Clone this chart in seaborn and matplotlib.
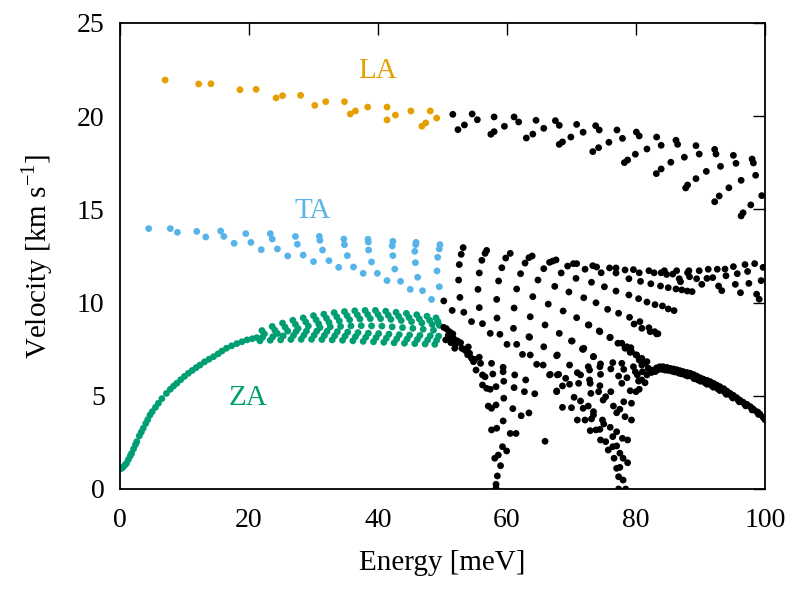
import numpy as np
import pandas as pd
import matplotlib
matplotlib.use("Agg")
import matplotlib.pyplot as plt
import seaborn as sns

# ---------------- data ----------------
la_E = [7.0, 12.2, 14.1, 18.6, 21.1, 24.2, 25.2, 28.0, 30.2, 31.9, 34.8, 35.7, 36.5,
        38.4, 41.4, 41.4, 42.7, 45.1, 46.8, 47.4, 48.1, 49.1]
la_V = [21.94, 21.73, 21.74, 21.42, 21.44, 20.98, 21.10, 21.12, 20.58, 20.78, 20.78,
        20.12, 20.28, 20.49, 20.49, 19.80, 20.06, 20.28, 19.46, 19.64, 20.28, 19.90]

ta_E = [4.45, 7.8, 8.9, 11.9, 13.3, 15.6, 16.1, 17.7, 19.5, 20.3, 21.9, 23.3, 23.6, 24.4,
        26.0, 27.2, 27.5, 28.4, 30.0, 30.9, 31.0, 31.4, 32.4, 33.9, 34.7, 34.8, 35.25,
        36.2, 37.7, 38.45, 38.5, 38.55, 39.0, 39.9, 41.4, 42.3, 42.2, 42.3, 42.6, 43.5,
        45.0, 45.9, 45.85, 45.7, 45.8, 46.15, 46.9, 48.3, 49.6, 49.5, 49.25, 49.15, 49.5]
ta_V = [13.97, 13.97, 13.77, 13.82, 13.52, 13.84, 13.55, 13.18, 13.70, 13.23, 12.84,
        13.70, 13.41, 12.88, 12.50, 13.55, 13.13, 12.55, 12.20, 13.55, 13.34, 12.82,
        12.25, 11.89, 13.41, 13.11, 12.52, 11.91, 11.57, 13.40, 13.25, 12.82, 12.18,
        11.57, 11.18, 13.29, 13.04, 12.52, 11.80, 11.14, 10.71, 13.23, 13.11, 12.75,
        12.14, 11.36, 10.64, 10.17, 13.11, 12.88, 12.43, 11.70, 10.85]

# ZA: low-energy curve
za_E = [0.1, 0.3, 0.5, 0.8, 1.0, 1.3, 1.6, 1.8, 2.1, 2.4, 2.6, 3.0, 3.3, 3.6, 4.0, 4.3,
        4.65, 5.0, 5.5, 5.95, 6.5, 7.2, 7.8, 8.3, 8.8, 9.4, 10.0, 10.6, 11.2, 11.8, 12.4,
        13.1, 13.8, 14.5, 15.2, 15.8, 16.5, 17.3, 18.1, 18.9, 19.7, 20.5, 21.2]
za_V = [1.10, 1.12, 1.18, 1.30, 1.38, 1.58, 1.78, 1.91, 2.15, 2.38, 2.54, 2.85, 3.05,
        3.26, 3.52, 3.72, 3.97, 4.15, 4.38, 4.60, 4.85, 5.13, 5.35, 5.52, 5.67, 5.86,
        6.04, 6.21, 6.36, 6.51, 6.65, 6.82, 6.96, 7.10, 7.25, 7.40, 7.55, 7.68, 7.80,
        7.90, 8.00, 8.06, 8.12]

# ZA: streaked band between 22 and 49 meV
zab_E = [22.0, 22.4, 21.7, 22.1,
         23.6, 24.0, 24.4, 23.3, 23.7,
         25.2, 25.6, 26.0, 24.9, 25.3,
         26.8, 27.2, 27.6, 26.5, 26.9, 27.3,
         28.4, 28.8, 29.2, 28.1, 28.5, 28.9,
         30.0, 30.4, 30.8, 29.7, 30.1, 30.5, 31.0,
         31.6, 32.0, 32.4, 31.3, 31.7, 32.1, 32.6,
         33.2, 33.6, 34.0, 32.9, 33.3, 33.7, 34.2,
         34.8, 35.2, 35.6, 34.5, 34.9, 35.3, 35.8,
         36.4, 36.8, 37.2, 36.1, 36.5, 36.9, 37.4,
         38.0, 38.4, 38.8, 37.7, 38.1, 38.5, 39.0,
         39.6, 40.0, 40.4, 39.3, 39.7, 40.1, 40.6,
         41.2, 41.6, 42.0, 40.9, 41.3, 41.7, 42.2,
         42.8, 43.2, 43.6, 42.5, 42.9, 43.3, 43.8,
         44.4, 44.8, 45.2, 44.1, 44.5, 44.9, 45.4,
         46.0, 46.4, 46.8, 45.7, 46.1, 46.5, 47.0,
         47.6, 48.0, 48.4, 47.3, 47.7, 48.1, 48.6,
         49.0, 49.3, 49.5, 48.8, 49.1, 49.4]
zab_V = [8.50, 8.32, 7.95, 8.14,
         8.72, 8.52, 8.34, 7.98, 8.17,
         8.90, 8.68, 8.47, 8.00, 8.21,
         9.05, 8.83, 8.61, 8.02, 8.24, 8.45,
         9.18, 8.96, 8.74, 8.03, 8.25, 8.47,
         9.30, 9.08, 8.86, 8.03, 8.25, 8.47, 8.66,
         9.38, 9.16, 8.94, 8.02, 8.24, 8.46, 8.70,
         9.46, 9.24, 9.02, 8.00, 8.22, 8.44, 8.72,
         9.52, 9.30, 9.08, 7.98, 8.20, 8.42, 8.75,
         9.56, 9.34, 9.12, 7.95, 8.17, 8.39, 8.76,
         9.58, 9.36, 9.14, 7.92, 8.14, 8.36, 8.75,
         9.58, 9.36, 9.14, 7.90, 8.12, 8.34, 8.74,
         9.54, 9.32, 9.10, 7.87, 8.09, 8.31, 8.70,
         9.48, 9.26, 9.04, 7.84, 8.06, 8.28, 8.66,
         9.42, 9.20, 8.98, 7.82, 8.04, 8.26, 8.62,
         9.35, 9.13, 8.91, 7.80, 8.02, 8.24, 8.57,
         9.27, 9.05, 8.83, 7.78, 8.00, 8.22, 8.52,
         9.18, 8.98, 8.78, 7.76, 7.98, 8.20]

hi_E = [51.6, 52.4, 53.4, 54.6, 55.4, 57.5, 58.0, 58.0, 59.6, 61.1, 61.8, 63.0, 64.0,
        64.5, 65.7, 67.5, 68.1, 68.1, 68.6, 69.9, 70.8, 71.8, 73.3, 74.2, 73.75, 74.3,
        75.8, 77.05, 77.9, 78.2, 78.7, 79.9, 80.05, 80.5, 81.7, 83.15, 83.9, 83.2, 83.9,
        85.4, 86.2, 86.45, 87.5, 87.7, 88.0, 89.3, 89.3, 89.8, 90.9, 92.2, 92.4, 93.1,
        92.2, 92.9, 94.4, 95.1, 95.5, 96.3, 98.0, 98.2, 98.55, 96.3, 96.6, 97.8, 99.5]
hi_V = [20.10, 19.28, 19.53, 20.12, 19.81, 19.03, 19.17, 19.96, 19.46, 19.96, 19.69,
        18.83, 19.04, 19.78, 19.35, 19.76, 19.51, 18.49, 18.62, 18.88, 19.56, 19.14,
        18.10, 18.31, 19.49, 19.26, 18.60, 19.26, 18.81, 17.51, 17.65, 17.96, 19.15,
        18.94, 18.24, 16.92, 17.17, 18.88, 18.44, 17.53, 18.71, 18.49, 17.80, 16.15,
        16.31, 16.65, 18.42, 17.97, 17.04, 18.22, 17.97, 17.31, 15.41, 15.72, 16.16,
        17.90, 17.47, 16.56, 17.70, 17.49, 16.83, 14.65, 14.82, 15.24, 15.74]

mid_E = [50.2, 51.5, 52.5, 52.7, 52.6, 52.9, 53.2, 53.3, 54.5, 55.5, 55.7, 55.7, 56.1,
         56.6, 56.85, 56.2, 57.4, 58.4, 58.45, 58.7, 59.2, 59.8, 60.5, 58.9, 60.0, 61.5,
         61.0, 61.1, 61.5, 62.1, 62.8, 63.4, 63.9, 63.5, 63.6, 64.0, 64.8, 65.7, 66.6,
         67.1, 67.6, 65.7, 65.9, 66.4, 67.4, 68.4, 69.4, 70.3, 70.8, 68.7, 69.6, 70.7,
         72.1, 73.3, 73.9, 74.6, 75.9, 76.9, 78.3, 79.6, 80.5, 82.0, 82.8, 84.4, 86.3,
         88.2, 89.8, 91.2, 92.6, 93.8, 95.1, 96.9, 98.4, 99.7,
         73.1, 75.1, 76.9, 76.9, 78.9, 78.9, 80.7, 80.4, 82.3, 81.7, 83.8, 82.95, 85.0,
         86.2, 87.1, 87.95, 88.7, 84.1, 85.0, 85.9, 83.9, 84.75, 85.7, 86.7, 86.9, 88.0,
         88.3, 89.4, 90.2, 91.0, 91.9, 92.8, 93.3, 93.95, 95.4, 95.7, 96.2, 97.3, 97.5,
         98.7, 99.1, 99.4,
         71.9, 73.8, 75.6, 77.3, 79.0, 80.6, 82.0, 82.9, 83.4,
         70.8, 72.6, 74.3, 75.95, 77.8, 79.2, 70.0, 71.9,
         63.4, 68.1, 67.7, 70.1, 72.7, 71.8, 73.4, 74.4, 76.0, 77.2, 78.3, 79.1, 79.7,
         80.9, 82.2, 83.2]
mid_V = [10.09, 9.58, 11.21, 10.28, 12.04, 12.59, 12.95, 9.48, 8.98, 10.71, 11.59, 9.73,
         12.27, 12.64, 12.80, 8.87, 8.35, 10.17, 9.17, 11.16, 11.87, 12.39, 12.64, 8.30,
         7.76, 7.76, 8.62, 9.71, 10.73, 11.55, 12.12, 12.41, 12.50, 8.14, 9.24, 10.32,
         11.21, 11.82, 12.16, 12.23, 12.29, 7.63, 8.80, 9.92, 10.87, 11.59, 11.96, 12.09,
         12.09, 9.55, 10.57, 11.30, 11.79, 11.98, 11.91, 11.60, 11.86, 11.86, 11.75,
         11.77, 11.60, 11.71, 11.60, 11.71, 11.71, 11.71, 11.71, 11.79, 11.79, 11.80,
         11.93, 12.04, 12.09, 11.89,
         11.09, 10.85, 11.59, 10.62, 11.28, 10.41, 11.14, 10.21, 11.01, 10.03, 10.89,
         9.89, 10.80, 10.73, 10.68, 10.62, 10.59, 9.82, 9.66, 9.57, 11.60, 11.51, 11.53,
         11.28, 11.12, 11.60, 11.39, 11.28, 10.98, 11.30, 11.34, 10.89, 10.64, 11.44,
         10.98, 11.55, 10.53, 11.67, 11.03, 10.45, 10.18, 11.18,
         10.26, 9.99, 9.64, 9.43, 9.21, 8.98, 8.65, 8.44, 8.33,
         9.19, 8.80, 8.48, 8.12, 7.82, 7.58, 7.94, 7.55,
         8.17, 8.35, 7.15, 7.94, 8.80, 7.49, 7.10, 8.44, 8.14, 7.82, 7.55, 7.33, 8.85,
         8.62, 8.44, 8.32]

low_E = [50.2, 50.6, 51.0, 51.2, 51.6, 51.7, 52.3, 52.8, 51.9, 53.0, 53.6, 54.2, 54.5,
         54.8, 55.7, 55.9, 55.2, 56.2, 56.6, 56.2, 56.85, 57.4, 57.6, 57.8, 58.3, 59.4,
         59.4, 59.5, 59.5, 57.1, 57.6, 58.3, 61.2, 61.1, 60.9, 62.2, 63.4, 62.7, 64.3,
         62.9, 59.4, 57.6, 58.4, 60.5, 61.4, 65.9, 59.3, 59.95, 58.65, 58.1, 59.0, 58.5,
         58.3, 58.3, 66.6, 67.8, 67.8, 67.7, 65.6, 64.6, 63.6, 62.4,
         71.7, 73.4, 69.7, 72.6, 72.8, 74.5, 74.4, 76.4, 76.1, 74.5, 66.7, 68.0, 70.9,
         71.4, 69.1, 69.7, 68.6, 67.7, 71.1, 72.8, 72.9, 74.4, 73.0, 74.2, 76.1, 77.8,
         78.1, 77.3, 77.8, 78.6, 79.6, 79.9, 80.4, 80.5, 81.4, 80.0, 79.1, 70.4, 71.4,
         74.9, 75.3, 76.5, 77.5, 78.1, 79.3, 77.0, 78.3, 79.3, 68.6, 70.0, 71.8, 72.6,
         73.4, 73.4, 70.9, 72.1, 73.1, 74.8, 75.0, 72.9, 73.8, 74.4, 76.0, 77.0, 77.9,
         78.7, 74.5, 75.3, 76.4, 75.7, 76.4, 77.0, 77.5, 78.0, 78.7, 76.6, 77.0, 77.5,
         77.3, 78.0, 77.3, 78.4,
         79.1, 80.0, 80.5, 80.9, 81.4, 81.9, 81.0, 80.2, 81.7, 80.9, 78.6, 79.3, 80.1,
         80.9, 81.7,
         50.5, 51.3, 52.0, 53.3, 53.9, 54.0, 55.0, 50.9, 51.4]
low_V = [8.67, 8.60, 8.45, 8.40, 8.32, 8.08, 7.95, 7.85, 7.55, 7.55, 7.42, 7.28, 7.01,
         6.83, 7.07, 6.74, 6.38, 6.12, 6.02, 5.58, 5.40, 5.35, 6.74, 6.17, 5.49, 6.53,
         6.29, 5.78, 4.87, 4.45, 4.33, 4.51, 6.12, 5.44, 4.31, 3.93, 4.08, 5.22, 5.11,
         5.85, 3.65, 3.17, 3.26, 2.98, 2.98, 2.56, 2.27, 2.04, 1.82, 1.65, 1.25, 0.70,
         0.25, 0.04, 6.12, 6.12, 7.19, 5.26, 6.65, 6.69, 7.19, 7.22,
         7.51, 7.10, 6.65, 6.56, 6.38, 6.71, 6.56, 6.78, 6.44, 6.15, 6.15, 6.15, 6.24,
         6.12, 5.94, 5.62, 5.53, 5.22, 5.67, 5.85, 5.67, 5.54, 5.13, 5.22, 5.22, 6.74,
         6.42, 6.06, 5.67, 5.97, 6.56, 6.29, 5.79, 5.35, 5.70, 5.22, 5.27, 4.92, 4.72,
         4.77, 4.95, 4.45, 4.28, 4.68, 4.60, 4.09, 3.88, 3.70, 4.38, 4.36, 4.33, 4.45,
         4.15, 3.97, 3.70, 3.70, 3.76, 3.70, 3.49, 3.13, 3.17, 3.20, 3.31, 3.07, 2.72,
         2.63, 2.63, 2.54, 2.81, 2.09, 2.27, 2.31, 1.92, 1.65, 1.41, 1.65, 1.11, 1.16,
         0.66, 0.48, 0.0, 0.0,
         7.37, 7.19, 6.92, 6.65, 6.74, 6.47, 6.29, 6.12, 6.12, 5.85, 7.63, 7.37, 7.19,
         7.01, 6.83,
         8.00, 7.85, 7.75, 7.50, 7.20, 7.62, 6.95, 8.25, 8.10]

tail_E = [82.0, 82.7, 83.2, 83.7, 84.2, 84.8, 85.3, 85.8, 86.3, 86.8, 87.3, 87.9, 88.4,
          88.9, 89.4, 89.9, 90.4, 91.0, 91.5, 92.0, 92.5, 93.0, 93.6, 94.1, 94.6, 95.1,
          95.6, 96.1, 96.6, 97.2, 97.7, 98.2, 98.7, 99.2, 99.7, 100.0,
          82.4, 83.4, 84.5, 85.6, 86.6, 87.6, 88.6, 89.6, 90.7, 91.7, 92.7, 93.8, 94.8,
          95.8, 96.8, 97.9, 98.9, 99.9,
          83.0, 84.0, 85.0, 86.0, 87.0, 88.0, 89.0, 90.0, 91.0, 92.0, 93.0, 94.0, 95.0,
          96.0, 97.0, 98.0, 99.0]
tail_V = [6.45, 6.38, 6.50, 6.56, 6.56, 6.52, 6.47, 6.44, 6.40, 6.35, 6.30, 6.25, 6.21,
          6.14, 6.06, 5.97, 5.90, 5.83, 5.76, 5.67, 5.58, 5.49, 5.38, 5.25, 5.13, 5.02,
          4.90, 4.77, 4.66, 4.54, 4.42, 4.28, 4.15, 4.02, 3.85, 3.72,
          6.25, 6.40, 6.38, 6.32, 6.22, 6.12, 6.05, 5.85, 5.70, 5.55, 5.37, 5.18, 4.98,
          4.78, 4.58, 4.35, 4.12, 3.80,
          6.30, 6.42, 6.36, 6.28, 6.18, 6.06, 5.92, 5.78, 5.62, 5.46, 5.28, 5.08, 4.88,
          4.68, 4.46, 4.24, 4.00]

# ---------------- build table ----------------
frames = []
for name, E, V in [("LA", la_E, la_V), ("TA", ta_E, ta_V), ("ZA", za_E, za_V),
                   ("ZA", zab_E, zab_V),
                   ("opt", hi_E, hi_V), ("opt", mid_E, mid_V), ("opt", low_E, low_V),
                   ("opt", tail_E, tail_V)]:
    frames.append(pd.DataFrame({"E": E, "V": V, "branch": name}))
df = pd.concat(frames, ignore_index=True)

palette = {"LA": "#E69F00", "TA": "#56B4E9", "ZA": "#009E73", "opt": "#000000"}

sns.set_theme(style="white")
plt.rcParams["font.family"] = ["Liberation Serif", "DejaVu Serif"]
plt.rcParams["mathtext.fontset"] = "custom"
plt.rcParams["mathtext.rm"] = "Liberation Serif"
plt.rcParams["text.color"] = "black"
plt.rcParams["axes.labelcolor"] = "black"
plt.rcParams["xtick.color"] = "black"
plt.rcParams["ytick.color"] = "black"

fig = plt.figure(figsize=(7.96, 5.92), dpi=100)
ax = fig.add_axes([120/796, 1-489/592, 645/796, 466/592])

sns.scatterplot(data=df, x="E", y="V", hue="branch", palette=palette, s=24,
                linewidth=0, legend=False, ax=ax)

ax.set_xlim(0, 100)
ax.set_ylim(0, 25)
ax.set_xticks([0, 20, 40, 60, 80, 100])
ax.set_yticks([0, 5, 10, 15, 20, 25])
ax.tick_params(direction="in", length=8.5, width=1, top=True, right=True,
               labelsize=20, colors="black", labelcolor="black")
ax.tick_params(axis="x", pad=14)
ax.tick_params(axis="y", pad=11)
for sp in ax.spines.values():
    sp.set_color("black")
    sp.set_linewidth(1.3)
ax.set_xlabel("Energy [meV]", fontsize=21, labelpad=12, color="black")
ax.set_ylabel("Velocity [km s$^{-1}$]", fontsize=21, labelpad=16, color="black")

ax.text(40, 22.4, "LA", color="#E69F00", fontsize=21, ha="center", va="center")
ax.text(29.8, 14.9, "TA", color="#56B4E9", fontsize=21, ha="center", va="center")
ax.text(19.8, 4.9, "ZA", color="#009E73", fontsize=21, ha="center", va="center")

fig.savefig("out.png", dpi=100)
